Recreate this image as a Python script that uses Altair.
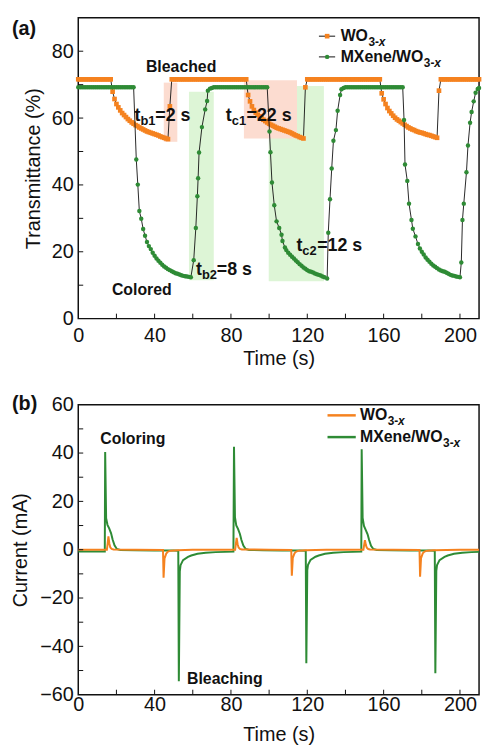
import altair as alt
import pandas as pd

FONT = "Liberation Sans"
ORANGE = "#F5821F"
GREEN = "#2E8B35"
PINK = "#FCDCD0"
LGREEN = "#DDF5D6"
INK = "#111111"

# ---------------- (a) transmittance ----------------
wo3_time = list(range(0, 211))
wo3_trans = (
    [71.6] * 18
    + [67.9, 65.7, 64.2, 63.2, 62.3, 61.5, 60.9, 60.3, 59.7, 59.2,
       58.7, 58.3, 57.9, 57.6, 57.2, 56.9, 56.6, 56.3, 56.0, 55.8,
       55.6, 55.4, 55.2, 55.0, 54.8, 54.5, 54.3, 54.1, 53.9, 53.7]
    + [63.5]
    + [71.6] * 40
    + [66.9, 65.0, 63.5, 62.4, 61.6, 61.0, 60.5, 60.0, 59.5, 59.1,
       58.7, 58.3, 58.0, 57.7, 57.4, 57.1, 56.9, 56.7, 56.5, 56.3,
       56.1, 55.9, 55.7, 55.4, 55.1, 54.8, 54.6, 54.3, 54.1, 53.9]
    + [69.2]
    + [71.6] * 39
    + [67.4, 65.6, 64.2, 63.0, 62.1, 61.4, 60.7, 60.1, 59.6, 59.2,
       58.8, 58.4, 58.0, 57.6, 57.2, 56.9, 56.6, 56.4, 56.1, 55.9,
       55.7, 55.6, 55.4, 55.2, 55.0, 54.9, 54.7, 54.5, 54.3, 54.1]
    + [68.2]
    + [71.6] * 21
)

mx_time = (
    list(range(0, 30))
    + [30.4, 31.2, 32.0]
    + list(range(33, 60))
    + [60.5, 61.6, 62.4, 62.8, 63.3, 64.8, 66.5, 67.5, 67.9]
    + list(range(69, 100))
    + [100.2, 100.7, 101.5, 102.7, 103.9, 105.3, 106.5, 107.0, 108.3]
    + list(range(109, 130))
    + [130.4, 131.0, 131.9, 132.8, 133.7, 135.0, 135.9, 137.2, 137.9]
    + list(range(139, 171))
    + [170.7, 171.2, 172.4, 173.3, 174.6, 175.3, 176.7, 178.0]
    + list(range(179, 201))
    + [200.7, 201.3, 202.0, 203.4, 204.2, 205.3, 206.1, 207.2, 208.2, 209.3, 210.0]
)
mx_trans = (
    [69.2] * 30
    + [47.6, 40.1, 32.2]
    + [29.9, 26.8, 24.8, 22.9, 21.7, 20.8, 19.7, 18.8, 18.0, 17.3,
       16.7, 16.1, 15.6, 15.2, 14.8, 14.5, 14.2, 13.9, 13.6, 13.4,
       13.2, 13.0, 12.8, 12.7, 12.6, 12.5, 12.4]
    + [17.5, 27.1, 36.6, 42.0, 49.7, 57.3, 62.6, 65.1, 68.2]
    + [68.8, 69.0] + [69.2] * 29
    + [56.0, 49.8, 40.7, 33.9, 29.1, 27.1, 25.1, 23.2, 21.3]
    + [20.5, 19.7, 19.1, 18.5, 18.0, 17.4, 16.9, 16.3, 15.8, 15.3,
       14.9, 14.5, 14.2, 14.0, 13.8, 13.5, 13.3, 13.1, 12.9, 12.6, 12.4]
    + [12.0, 25.7, 35.7, 44.9, 53.2, 56.4, 62.2, 66.9, 68.6]
    + [69.0] + [69.2] * 31
    + [59.4, 46.1, 41.2, 34.4, 29.5, 26.9, 24.6, 22.3]
    + [21.0, 20.0, 19.2, 18.3, 17.6, 17.0, 16.4, 15.9, 15.5, 15.1,
       14.7, 14.4, 14.2, 14.0, 13.7, 13.4, 13.1, 12.9, 12.8, 12.6, 12.5, 12.4]
    + [16.8, 29.5, 34.4, 43.8, 51.8, 58.6, 61.8, 65.0, 67.6, 68.7, 69.0]
)
assert len(wo3_time) == len(wo3_trans)
assert len(mx_time) == len(mx_trans)

# shaded response-time windows
green_x1 = [58.0, 99.8]
green_x2 = [71.0, 128.7]
green_y1 = [11.5, 11.2]
green_y2 = [67.9, 69.6]
pink_x1 = [44.8, 86.8]
pink_x2 = [51.9, 114.6]
pink_y1 = [52.9, 53.9]
pink_y2 = [70.6, 71.3]

# response-time labels
rt_x = [29.5, 77.3, 61.7, 114.3]
rt_y = [60.5, 60.5, 14.6, 21.8]
rt_sub = ["b1", "c1", "b2", "c2"]
rt_rest = ["=2 s", "=22 s", "=8 s", "=12 s"]

# ---------------- (b) current ----------------
mxc_time = [0, 13.9, 14.1, 14.6, 15.3, 16.2, 17.2, 18.0, 19.0, 20.2, 22, 30, 40, 50,
            52.4, 52.7, 53.2, 53.6, 54.9, 57.5, 59.2, 62.5, 66.8, 72, 77, 81.3,
            81.6, 82.1, 82.8, 83.7, 84.7, 85.5, 86.5, 87.7, 89.5, 97, 107, 116,
            119.2, 119.5, 120.0, 120.4, 121.7, 124.3, 126, 129.3, 133.6, 139, 144, 148.3,
            148.5, 149.0, 149.7, 150.6, 151.6, 152.4, 153.4, 154.6, 156.4, 164, 174, 184,
            186.8, 187.1, 187.6, 188.0, 189.3, 191.9, 193.6, 196.9, 201.2, 206, 210]
mxc_curr = [-0.7, -0.7, 40.4, 13.0, 10.3, 8.8, 6.8, 4.2, 1.8, 0.3, -0.1, -0.2, -0.3, -0.3,
            -0.4, -54.4, -9.0, -6.4, -4.3, -3.0, -2.4, -1.7, -1.3, -1.0, -0.9, -0.8,
            42.6, 13.5, 10.0, 8.6, 6.5, 4.0, 1.7, 0.3, -0.1, -0.2, -0.3, -0.3,
            -0.4, -47.0, -8.5, -6.2, -4.2, -2.9, -2.4, -1.7, -1.3, -1.0, -0.9, -0.8,
            41.6, 13.2, 9.8, 8.2, 6.4, 4.0, 1.6, 0.3, -0.1, -0.2, -0.3, -0.3,
            -0.4, -51.1, -8.8, -6.3, -4.3, -3.0, -2.4, -1.7, -1.3, -1.0, -0.9]
wc_time = [0, 15.0, 15.4, 15.8, 16.3, 16.8, 17.5, 18.5, 30, 44.4, 44.7, 45.2, 46.1, 47.0,
           48.5, 52, 60, 82.2, 82.6, 83.0, 83.5, 84.0, 84.7, 85.7, 100, 111.6, 111.9,
           112.4, 113.3, 114.2, 115.7, 119, 130, 149.4, 149.8, 150.2, 150.7, 151.2,
           151.9, 152.9, 165, 178.8, 179.1, 179.6, 180.5, 181.4, 182.9, 186, 200, 210]
wc_curr = [0, 0, 2.5, 5.5, 2.5, 0.9, 0.3, 0.1, 0, -0.1, -11.6, -3.6, -1.6, -0.8,
           -0.4, -0.2, 0, 0, 2.5, 4.9, 2.3, 0.9, 0.3, 0.1, 0, -0.1, -10.8,
           -3.4, -1.5, -0.8, -0.4, -0.2, 0, 0, 2.0, 3.9, 1.9, 0.8,
           0.3, 0.1, 0, -0.1, -11.2, -3.5, -1.5, -0.8, -0.4, -0.2, 0, 0]
assert len(mxc_time) == len(mxc_curr)
assert len(wc_time) == len(wc_curr)

# axis ticks
xticks = [20, 40, 60, 80, 100, 120, 140, 160, 180, 200]
xlabels = [0, 40, 80, 120, 160, 200]
yticks_a = [10, 20, 30, 40, 50, 60, 70, 80]
ylabels_a = [0, 20, 40, 60, 80]
yticks_b = [-50, -40, -30, -20, -10, 0, 10, 20, 30, 40, 50]
ylabels_b = [-60, -40, -20, 0, 20, 40, 60]

W = 405
HA = 304
HB = 293

xs = alt.Scale(domain=[0, 210], nice=False, zero=False)
ysa = alt.Scale(domain=[0, 90], nice=False, zero=False)
ysb = alt.Scale(domain=[-60, 60], nice=False, zero=False)


def X(f, axis=alt.Undefined):
    return alt.X(f, type="quantitative", scale=xs, axis=axis)


def Yq(f, sc, axis=alt.Undefined):
    return alt.Y(f, type="quantitative", scale=sc, axis=axis)


def txt(df, ysc, size, dx=0, dy=0, align="left", style="normal", weight="bold"):
    return alt.Chart(df).mark_text(
        font=FONT, fontSize=size, fontWeight=weight, fontStyle=style, dx=dx, dy=dy,
        align=align, baseline="middle", color=INK,
    ).encode(x=X("x"), y=Yq("y", ysc), text="text:N")


def ticks(ysc, H, yt):
    xt_l = alt.Chart(pd.DataFrame({"v": xticks})).mark_rule(color=INK, strokeWidth=1).encode(
        x=X("v"), y=alt.value(H), y2=alt.value(H - 5))
    yt_l = alt.Chart(pd.DataFrame({"v": yt})).mark_rule(color=INK, strokeWidth=1).encode(
        y=Yq("v", ysc), x=alt.value(0), x2=alt.value(5))
    return [xt_l, yt_l]


def xaxis(lp, tp):
    return alt.Axis(values=xlabels, format="d", title="Time (s)", labelFlush=False,
                    labelOverlap=False, labelPadding=lp, titlePadding=tp, ticks=False,
                    tickSize=0, domain=False, grid=False)


def yaxis(vals, title, tp):
    return alt.Axis(values=vals, format="d", title=title, labelFlush=False,
                    labelOverlap=False, labelPadding=5, titlePadding=tp, ticks=False,
                    tickSize=0, domain=False, grid=False)


# ---------- panel (a) ----------
wo3_df = pd.DataFrame({"t": wo3_time, "v": wo3_trans})
mx_df = pd.DataFrame({"t": mx_time, "v": mx_trans})

rect_g = alt.Chart(pd.DataFrame({"x1": green_x1, "x2": green_x2, "y1": green_y1, "y2": green_y2})).mark_rect(
    color=LGREEN).encode(x=X("x1", xaxis(7, 3)), x2="x2",
                         y=Yq("y1", ysa, yaxis(ylabels_a, "Transmittance (%)", 8)), y2="y2")
rect_p = alt.Chart(pd.DataFrame({"x1": pink_x1, "x2": pink_x2, "y1": pink_y1, "y2": pink_y2})).mark_rect(
    color=PINK).encode(x=X("x1"), x2="x2", y=Yq("y1", ysa), y2="y2")

wo3_line = alt.Chart(wo3_df).mark_line(color=INK, strokeWidth=0.9).encode(x=X("t"), y=Yq("v", ysa))
wo3_pts = alt.Chart(wo3_df).mark_square(size=22, color=ORANGE, opacity=1).encode(x=X("t"), y=Yq("v", ysa))
mx_line = alt.Chart(mx_df).mark_line(color=INK, strokeWidth=0.9).encode(x=X("t"), y=Yq("v", ysa))
mx_pts = alt.Chart(mx_df).mark_circle(size=20, color=GREEN, opacity=1).encode(x=X("t"), y=Yq("v", ysa))

rt_main = txt(pd.DataFrame({"x": rt_x, "y": rt_y, "text": ["t"] * 4}), ysa, 18)
rt_s = txt(pd.DataFrame({"x": rt_x, "y": rt_y, "text": rt_sub}), ysa, 13, dx=6, dy=5)
rt_r = txt(pd.DataFrame({"x": rt_x, "y": rt_y, "text": rt_rest}), ysa, 18, dx=21)
state_a = txt(pd.DataFrame({"x": [53.9, 33.3], "y": [75.3, 8.6], "text": ["Bleached", "Colored"]}),
              ysa, 16, align="center")

# legend (a)
leg_a_y = [84.5, 78.3]
leg_a_rule = alt.Chart(pd.DataFrame({"x1": [126.1, 126.1], "x2": [134.6, 134.6], "y": leg_a_y})).mark_rule(
    color=INK, strokeWidth=1).encode(x=X("x1"), x2="x2", y=Yq("y", ysa))
leg_a_sq = alt.Chart(pd.DataFrame({"x": [130.4], "y": [leg_a_y[0]]})).mark_square(
    size=22, color=ORANGE, opacity=1).encode(x=X("x"), y=Yq("y", ysa))
leg_a_ci = alt.Chart(pd.DataFrame({"x": [130.4], "y": [leg_a_y[1]]})).mark_circle(
    size=20, color=GREEN, opacity=1).encode(x=X("x"), y=Yq("y", ysa))


def legend_texts(xpos, ys, ysc):
    out = [txt(pd.DataFrame({"x": [xpos, xpos], "y": ys, "text": ["WO", "MXene/WO"]}), ysc, 16)]
    for yv, off in [(ys[0], 28), (ys[1], 84)]:
        out.append(txt(pd.DataFrame({"x": [xpos], "y": [yv], "text": ["3-"]}), ysc, 12, dx=off, dy=6))
        out.append(txt(pd.DataFrame({"x": [xpos], "y": [yv], "text": ["x"]}), ysc, 12, dx=off + 10.5,
                       dy=6, style="italic"))
    return out


lab_a = alt.Chart(pd.DataFrame({"text": ["(a)"]})).mark_text(
    font=FONT, fontSize=20, fontWeight="bold", align="left", baseline="middle", color=INK
).encode(x=alt.value(-67), y=alt.value(11), text="text:N")

panel_a = alt.layer(
    rect_g, rect_p, wo3_line, wo3_pts, mx_line, mx_pts,
    *ticks(ysa, HA, yticks_a),
    rt_main, rt_s, rt_r, state_a,
    leg_a_rule, leg_a_sq, leg_a_ci, *legend_texts(137.5, leg_a_y, ysa),
    lab_a,
).properties(width=W, height=HA)

# ---------- panel (b) ----------
mxc_df = pd.DataFrame({"t": mxc_time, "v": mxc_curr})
wc_df = pd.DataFrame({"t": wc_time, "v": wc_curr})

mxc_line = alt.Chart(mxc_df).mark_line(color=GREEN, strokeWidth=2).encode(
    x=X("t", xaxis(0, 10)),
    y=Yq("v", ysb, yaxis(ylabels_b, "Current (mA)", 9)))
wc_line = alt.Chart(wc_df).mark_line(color=ORANGE, strokeWidth=2).encode(x=X("t"), y=Yq("v", ysb))

state_b = txt(pd.DataFrame({"x": [28.6, 76.8], "y": [46.0, -53.6], "text": ["Coloring", "Bleaching"]}),
              ysb, 16, align="center")

leg_b_y = [55.6, 46.6]
leg_b_o = alt.Chart(pd.DataFrame({"x1": [130.6], "x2": [145.4], "y": [leg_b_y[0]]})).mark_rule(
    color=ORANGE, strokeWidth=2.5).encode(x=X("x1"), x2="x2", y=Yq("y", ysb))
leg_b_g = alt.Chart(pd.DataFrame({"x1": [130.6], "x2": [145.4], "y": [leg_b_y[1]]})).mark_rule(
    color=GREEN, strokeWidth=2.5).encode(x=X("x1"), x2="x2", y=Yq("y", ysb))

lab_b = alt.Chart(pd.DataFrame({"text": ["(b)"]})).mark_text(
    font=FONT, fontSize=20, fontWeight="bold", align="left", baseline="middle", color=INK
).encode(x=alt.value(-67), y=alt.value(-1), text="text:N")

panel_b = alt.layer(
    mxc_line, wc_line,
    *ticks(ysb, HB, yticks_b),
    state_b, leg_b_o, leg_b_g, *legend_texts(147.6, leg_b_y, ysb),
    lab_b,
).properties(width=W, height=HB)

chart = alt.vconcat(panel_a, panel_b, spacing=24).properties(
    padding={"left": 2, "top": 5, "right": 0, "bottom": 0},
    background="white",
).configure_view(
    stroke=INK, strokeWidth=1.5
).configure_axis(
    labelFont=FONT, labelFontSize=20, labelColor=INK,
    titleFont=FONT, titleFontSize=20, titleFontWeight="normal", titleColor=INK,
)

chart.save("out.html", embed_options={"renderer": "svg", "actions": False})
